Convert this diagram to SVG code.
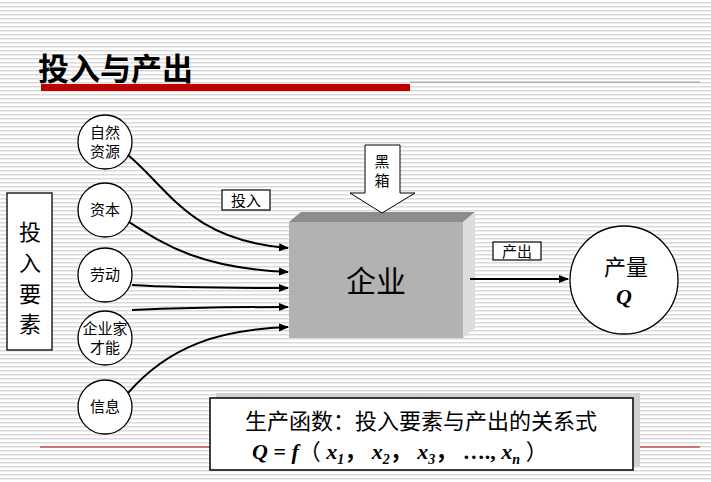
<svg xmlns="http://www.w3.org/2000/svg" width="711" height="482" viewBox="0 0 711 482">
<defs>
<pattern id="st" width="4" height="4" patternUnits="userSpaceOnUse"><rect width="4" height="4" fill="#fff"/><rect y="2" width="4" height="1.5" fill="#d9d9d9"/></pattern>
<marker id="ah" viewBox="0 0 10 10" refX="9" refY="5" markerWidth="5" markerHeight="5" orient="auto"><path d="M0,1 L10,5 L0,9 Z" fill="#000"/></marker>
<style>
.cjk{font-family:"Liberation Serif","Noto Sans CJK SC",serif;fill:#000}
.nd{fill:#fff;stroke:#000;stroke-width:1.3}
.ln{fill:none;stroke:#000;stroke-width:2;marker-end:url(#ah)}
.lb{fill:#fff;stroke:#000;stroke-width:1.2}
</style>
</defs>
<rect width="711" height="482" fill="url(#st)"/>
<text x="38" y="80" class="cjk" style="font-family:'Noto Sans CJK SC',sans-serif;font-weight:bold" font-size="31">投入与产出</text>
<line x1="410" y1="82" x2="700" y2="82" stroke="#999" stroke-width="1"/>
<rect x="41" y="84" width="369" height="7" fill="#c00000"/>
<line x1="40" y1="447" x2="700" y2="447" stroke="#c00000" stroke-width="1.2"/>

<g id="inputs-box"><rect x="7" y="193" width="45" height="157" class="nd"/>
<g class="cjk" font-size="22" text-anchor="middle"><text x="30" y="240">投</text><text x="30" y="271">入</text><text x="30" y="302">要</text><text x="30" y="332">素</text></g></g>

<g id="n1"><circle cx="105" cy="142" r="27" class="nd"/><text class="cjk" font-size="15" text-anchor="middle"><tspan x="105" y="138">自然</tspan><tspan x="105" y="157">资源</tspan></text></g>
<g id="n2"><circle cx="105" cy="210" r="27" class="nd"/><text class="cjk" font-size="15" text-anchor="middle" x="105" y="215">资本</text></g>
<g id="n3"><circle cx="105" cy="275" r="27" class="nd"/><text class="cjk" font-size="15" text-anchor="middle" x="105" y="280">劳动</text></g>
<g id="n4"><circle cx="105" cy="338" r="27" class="nd"/><text class="cjk" font-size="15" text-anchor="middle"><tspan x="105" y="334">企业家</tspan><tspan x="105" y="353">才能</tspan></text></g>
<g id="n5"><circle cx="105" cy="407" r="27" class="nd"/><text class="cjk" font-size="15" text-anchor="middle" x="105" y="412">信息</text></g>

<g id="firm">
<polygon points="289,222 301,212 475,212 463,222" fill="#8c8c8c"/>
<polygon points="463,222 475,212 475,328 463,338" fill="#dcdcdc"/>
<rect x="289" y="222" width="174" height="116" fill="#b2b2b2"/>
<text x="376" y="292" class="cjk" font-size="30" text-anchor="middle">企业</text>
</g>

<g id="blackbox"><polygon points="365,145 400,145 400,193 415,193 382,213 350,193 365,193" fill="#fff" stroke="#000" stroke-width="1"/>
<text class="cjk" font-size="15" text-anchor="middle"><tspan x="382" y="167">黑</tspan><tspan x="382" y="186">箱</tspan></text></g>

<g id="lbl-in"><rect x="222" y="190" width="48" height="20" class="lb"/><text x="246" y="206" class="cjk" font-size="15" text-anchor="middle">投入</text></g>
<g id="lbl-out"><rect x="493" y="242" width="48" height="18" class="lb"/><text x="517" y="257" class="cjk" font-size="15" text-anchor="middle">产出</text></g>

<g id="output"><circle cx="624" cy="280" r="54" class="nd"/>
<text x="626" y="275" class="cjk" font-size="22" text-anchor="middle">产量</text>
<text x="624" y="304" class="cjk" font-size="22" font-style="italic" font-weight="bold" text-anchor="middle">Q</text></g>

<g id="connectors">
<path class="ln" d="M128,155 C170,190 190,240 288,248"/>
<path class="ln" d="M129,222 C165,245 200,268 288,272"/>
<path class="ln" d="M132,285 C180,288 230,288 288,288"/>
<path class="ln" d="M132,310 C180,308 230,307 288,307"/>
<path class="ln" d="M128,393 C170,345 220,330 288,327"/>
<path class="ln" d="M470,279 L568,279"/>
</g>

<g id="formula">
<rect x="216" y="393" width="424" height="73" fill="#d0d0d0"/>
<rect x="210" y="398" width="423" height="72" fill="#fff" stroke="#000" stroke-width="1.5"/>
<text x="421" y="429" class="cjk" font-size="22" text-anchor="middle">生产函数：投入要素与产出的关系式</text>
<text x="252" y="459" class="cjk" font-size="22" font-weight="bold" font-style="italic">Q<tspan font-style="normal"> = </tspan>f<tspan font-style="normal" font-weight="normal">（ </tspan>x<tspan font-size="14" dy="5">1</tspan><tspan dy="-5" font-style="normal">，   </tspan>x<tspan font-size="14" dy="5">2</tspan><tspan dy="-5" font-style="normal">，   </tspan>x<tspan font-size="14" dy="5">3</tspan><tspan dy="-5" font-style="normal">，   …., </tspan>x<tspan font-size="14" dy="5">n</tspan><tspan dy="-5" font-style="normal" font-weight="normal">  ）</tspan></text>
</g>
</svg>
